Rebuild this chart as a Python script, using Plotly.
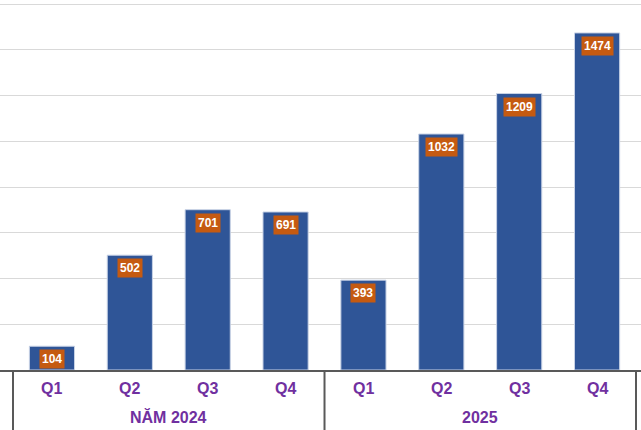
import plotly.graph_objects as go

years = ["NĂM 2024"] * 4 + ["2025"] * 4
quarters = ["Q1", "Q2", "Q3", "Q4", "Q1", "Q2", "Q3", "Q4"]
values = [104, 502, 701, 691, 393, 1032, 1209, 1474]
group_names = ["NĂM 2024", "2025"]

BAR = "#2F5597"
LABEL_BG = "#C55A11"
PURPLE = "#7030A0"
AXIS = "#595959"
FONT = "Liberation Sans, Arial, sans-serif"

PLOT_H = 370
BOTTOM = 60

fig = go.Figure()
fig.add_trace(go.Bar(
    x=[years, quarters],
    y=values,
    marker=dict(color=BAR, line=dict(color="#C9D3E6", width=1)),
    width=0.58,
    hoverinfo="skip",
))

# value labels
for i, v in enumerate(values):
    fig.add_annotation(
        x=i, y=v, xref="x", yref="y",
        text=f"<b>{v}</b>", showarrow=False,
        yanchor="top", yshift=-3,
        font=dict(family=FONT, size=12, color="white"),
        bgcolor=LABEL_BG, borderpad=2,
    )

# quarter labels
for i, q in enumerate(quarters):
    fig.add_annotation(
        x=i, y=0, xref="x", yref="paper",
        text=f"<b>{q}</b>", showarrow=False,
        yanchor="middle", yshift=-18,
        font=dict(family=FONT, size=16, color=PURPLE),
    )

# group labels and dividers
n_per = len(quarters) // len(group_names)
for g, name in enumerate(group_names):
    centre = g * n_per + (n_per - 1) / 2
    fig.add_annotation(
        x=centre, y=0, xref="x", yref="paper",
        text=f"<b>{name}</b>", showarrow=False,
        yanchor="middle", yshift=-47,
        font=dict(family=FONT, size=16, color=PURPLE),
    )
for k in range(len(group_names) + 1):
    xd = k * n_per - 0.5
    fig.add_shape(
        type="line", xref="x", yref="paper",
        x0=xd, x1=xd, y0=0, y1=-BOTTOM / PLOT_H,
        line=dict(color=AXIS, width=2),
    )

fig.update_layout(
    width=641, height=430,
    margin=dict(l=0, r=0, t=0, b=BOTTOM),
    paper_bgcolor="white", plot_bgcolor="white",
    showlegend=False,
    font=dict(family=FONT),
)
fig.update_xaxes(
    type="multicategory",
    range=[-0.667, 7.564],
    showline=True, linecolor=AXIS, linewidth=2,
    showticklabels=False, showdividers=False,
    showgrid=False, ticks="",
)
fig.update_yaxes(
    range=[0, 1618], dtick=200, showticklabels=False,
    showgrid=True, gridcolor="#D9D9D9", gridwidth=1,
    zeroline=False,
)

fig.write_html("out.html", config={"displayModeBar": False},
               post_script="document.body.style.margin='0';")
